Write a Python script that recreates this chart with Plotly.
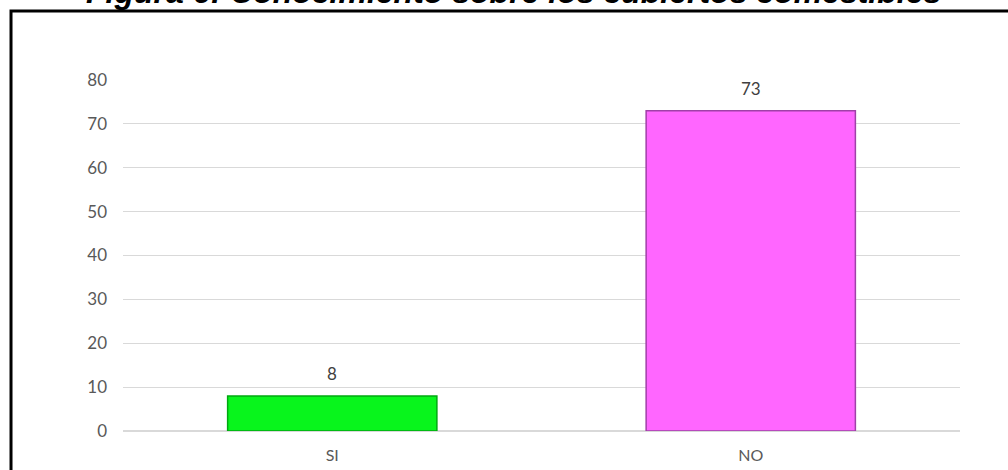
import plotly.graph_objects as go

# Respuestas a la pregunta sobre cubiertos comestibles
categorias = ["SI", "NO"]
respuestas = [8, 73]
colores_relleno = ["#08f51c", "#ff66ff"]
colores_borde = ["#00a810", "#a040a8"]
marcas_eje_y = [0, 10, 20, 30, 40, 50, 60, 70, 80]

titulo = "Figura 6: Conocimiento sobre los cubiertos comestibles"

fig = go.Figure()
fig.add_trace(go.Bar(
    x=categorias,
    y=respuestas,
    marker=dict(color=colores_relleno, line=dict(color=colores_borde, width=1.5)),
    width=0.5,
    hoverinfo="x+y",
))

# Etiquetas de valor sobre cada barra
for cat, val in zip(categorias, respuestas):
    fig.add_annotation(
        x=cat, y=val, text=str(val), showarrow=False,
        yanchor="bottom", yshift=10,
        font=dict(family="Lato, Open Sans, sans-serif", size=17, color="#404040"),
    )

# Título de la figura en negrita cursiva
fig.add_annotation(
    x=0.5, xref="paper", xanchor="center",
    y=1.2507, yref="paper", yanchor="middle",
    text="<b><i>" + titulo + "</i></b>", showarrow=False,
    font=dict(family="Liberation Sans, Arial, sans-serif", size=32, color="#000000"),
    xshift=-28,
)

# Marco negro alrededor del gráfico
fig.add_shape(
    type="rect", xref="paper", yref="paper",
    x0=-0.1338, x1=1.6, y0=-0.6, y1=1.1966,
    line=dict(color="#000000", width=3), fillcolor="rgba(0,0,0,0)",
    layer="above",
)

fig.update_layout(
    width=1008, height=470,
    margin=dict(l=123, r=48, t=80, b=39, autoexpand=False),
    paper_bgcolor="#ffffff",
    plot_bgcolor="#ffffff",
    showlegend=False,
    bargap=0.5,
    font=dict(family="Lato, Open Sans, sans-serif", size=17, color="#595959"),
    xaxis=dict(
        showgrid=False, showline=False, ticks="", automargin=False,
        tickfont=dict(size=16, color="#595959"),
        ticklabelstandoff=13,
    ),
    yaxis=dict(
        range=[0, 80], tickvals=marcas_eje_y, automargin=False,
        showgrid=True, gridcolor="#d9d9d9", gridwidth=1,
        zeroline=True, zerolinecolor="#d9d9d9", zerolinewidth=2,
        showline=False, ticks="",
        tickfont=dict(size=17, color="#595959"),
        ticklabelstandoff=15,
    ),
)

fig.write_html("out.html")
